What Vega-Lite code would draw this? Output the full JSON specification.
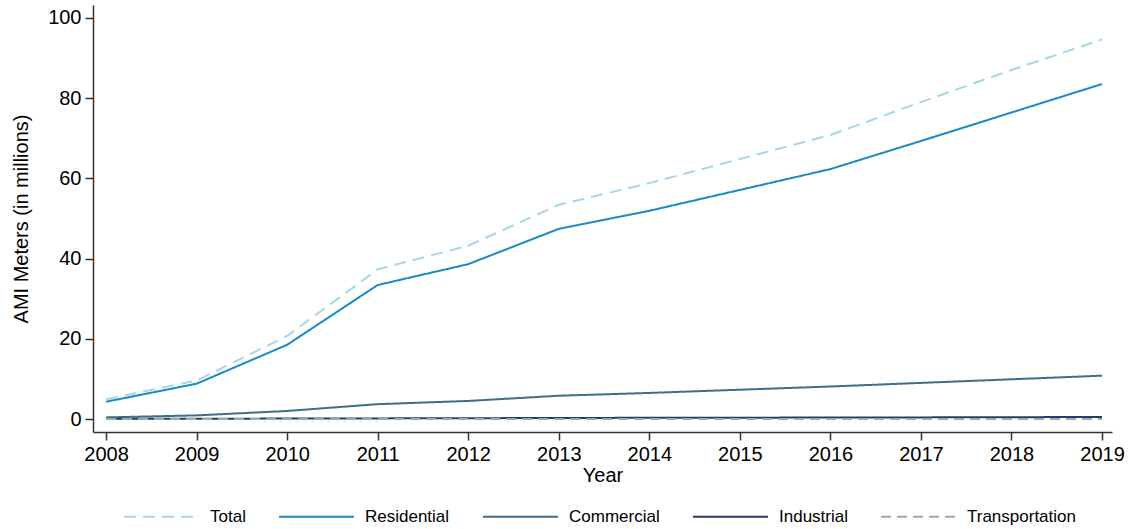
{
  "$schema": "https://vega.github.io/schema/vega-lite/v6.json",
  "autosize": {"type": "none"},
  "padding": {"left": 93, "top": 5, "right": 21, "bottom": 97},
  "width": 1019,
  "height": 427,
  "background": "white",
  "config": {
    "view": {"stroke": null},
    "font": "Liberation Sans",
    "axis": {
      "grid": false,
      "domainColor": "#333333",
      "domainWidth": 1.5,
      "tickColor": "#333333",
      "tickWidth": 1.5,
      "tickSize": 8,
      "labelColor": "#000000",
      "titleColor": "#000000",
      "labelFont": "Liberation Sans",
      "titleFont": "Liberation Sans",
      "labelFontSize": 20,
      "titleFontSize": 20,
      "titleFontWeight": "normal",
      "labelPadding": 4
    },
    "legend": {
      "labelFont": "Liberation Sans",
      "labelFontSize": 17,
      "labelColor": "#000000"
    }
  },
  "data": {
    "values": [
      {"year": 2008, "series": "Total", "value": 4.9},
      {"year": 2009, "series": "Total", "value": 9.6},
      {"year": 2010, "series": "Total", "value": 20.7},
      {"year": 2011, "series": "Total", "value": 37.3},
      {"year": 2012, "series": "Total", "value": 43.2},
      {"year": 2013, "series": "Total", "value": 53.4},
      {"year": 2014, "series": "Total", "value": 58.8},
      {"year": 2015, "series": "Total", "value": 64.8},
      {"year": 2016, "series": "Total", "value": 70.8},
      {"year": 2017, "series": "Total", "value": 79.0},
      {"year": 2018, "series": "Total", "value": 87.0},
      {"year": 2019, "series": "Total", "value": 94.6},
      {"year": 2008, "series": "Residential", "value": 4.3},
      {"year": 2009, "series": "Residential", "value": 8.8},
      {"year": 2010, "series": "Residential", "value": 18.5},
      {"year": 2011, "series": "Residential", "value": 33.4},
      {"year": 2012, "series": "Residential", "value": 38.6},
      {"year": 2013, "series": "Residential", "value": 47.4},
      {"year": 2014, "series": "Residential", "value": 51.9},
      {"year": 2015, "series": "Residential", "value": 57.1},
      {"year": 2016, "series": "Residential", "value": 62.3},
      {"year": 2017, "series": "Residential", "value": 69.3},
      {"year": 2018, "series": "Residential", "value": 76.4},
      {"year": 2019, "series": "Residential", "value": 83.5},
      {"year": 2008, "series": "Commercial", "value": 0.4},
      {"year": 2009, "series": "Commercial", "value": 0.9},
      {"year": 2010, "series": "Commercial", "value": 2.0},
      {"year": 2011, "series": "Commercial", "value": 3.7},
      {"year": 2012, "series": "Commercial", "value": 4.5},
      {"year": 2013, "series": "Commercial", "value": 5.8},
      {"year": 2014, "series": "Commercial", "value": 6.5},
      {"year": 2015, "series": "Commercial", "value": 7.3},
      {"year": 2016, "series": "Commercial", "value": 8.1},
      {"year": 2017, "series": "Commercial", "value": 9.0},
      {"year": 2018, "series": "Commercial", "value": 9.9},
      {"year": 2019, "series": "Commercial", "value": 10.8},
      {"year": 2008, "series": "Industrial", "value": 0.05},
      {"year": 2009, "series": "Industrial", "value": 0.08},
      {"year": 2010, "series": "Industrial", "value": 0.1},
      {"year": 2011, "series": "Industrial", "value": 0.15},
      {"year": 2012, "series": "Industrial", "value": 0.2},
      {"year": 2013, "series": "Industrial", "value": 0.25},
      {"year": 2014, "series": "Industrial", "value": 0.3},
      {"year": 2015, "series": "Industrial", "value": 0.33},
      {"year": 2016, "series": "Industrial", "value": 0.36},
      {"year": 2017, "series": "Industrial", "value": 0.4},
      {"year": 2018, "series": "Industrial", "value": 0.45},
      {"year": 2019, "series": "Industrial", "value": 0.5},
      {"year": 2008, "series": "Transportation", "value": 0.0},
      {"year": 2009, "series": "Transportation", "value": 0.0},
      {"year": 2010, "series": "Transportation", "value": 0.0},
      {"year": 2011, "series": "Transportation", "value": 0.0},
      {"year": 2012, "series": "Transportation", "value": 0.0},
      {"year": 2013, "series": "Transportation", "value": 0.0},
      {"year": 2014, "series": "Transportation", "value": 0.0},
      {"year": 2015, "series": "Transportation", "value": 0.0},
      {"year": 2016, "series": "Transportation", "value": 0.0},
      {"year": 2017, "series": "Transportation", "value": 0.0},
      {"year": 2018, "series": "Transportation", "value": 0.01},
      {"year": 2019, "series": "Transportation", "value": 0.01}
    ]
  },
  "mark": {"type": "line", "strokeWidth": 2},
  "encoding": {
    "x": {
      "field": "year",
      "type": "quantitative",
      "scale": {"domain": [2007.856, 2019.11], "nice": false, "zero": false},
      "axis": {"values": [2008, 2009, 2010, 2011, 2012, 2013, 2014, 2015, 2016, 2017, 2018, 2019], "format": "d", "title": "Year", "titlePadding": 1}
    },
    "y": {
      "field": "value",
      "type": "quantitative",
      "scale": {"domain": [-3.24, 103.2], "nice": false, "zero": false},
      "axis": {"values": [0, 20, 40, 60, 80, 100], "title": "AMI Meters (in millions)", "titlePadding": 16}
    },
    "color": {
      "field": "series",
      "type": "nominal",
      "sort": ["Total", "Residential", "Commercial", "Industrial", "Transportation"],
      "scale": {
        "domain": ["Total", "Residential", "Commercial", "Industrial", "Transportation"],
        "range": ["#a8d6e8", "#1a8ac4", "#3f6d8b", "#2a3a66", "#8fb0a6"]
      },
      "legend": {
        "title": null,
        "orient": "none",
        "direction": "horizontal",
        "legendX": 30,
        "legendY": 473,
        "symbolType": "stroke",
        "symbolSize": 5625,
        "symbolStrokeWidth": 2,
        "columnPadding": 29,
        "labelOffset": 10
      }
    },
    "strokeDash": {
      "field": "series",
      "type": "nominal",
      "sort": ["Total", "Residential", "Commercial", "Industrial", "Transportation"],
      "scale": {
        "domain": ["Total", "Residential", "Commercial", "Industrial", "Transportation"],
        "range": [[12, 7], [1, 0], [1, 0], [1, 0], [10, 6]]
      },
      "legend": {
        "title": null,
        "orient": "none",
        "direction": "horizontal",
        "legendX": 30,
        "legendY": 473,
        "symbolType": "stroke",
        "symbolSize": 5625,
        "symbolStrokeWidth": 2,
        "columnPadding": 29,
        "labelOffset": 10
      }
    },
    "order": {"field": "series"}
  }
}
